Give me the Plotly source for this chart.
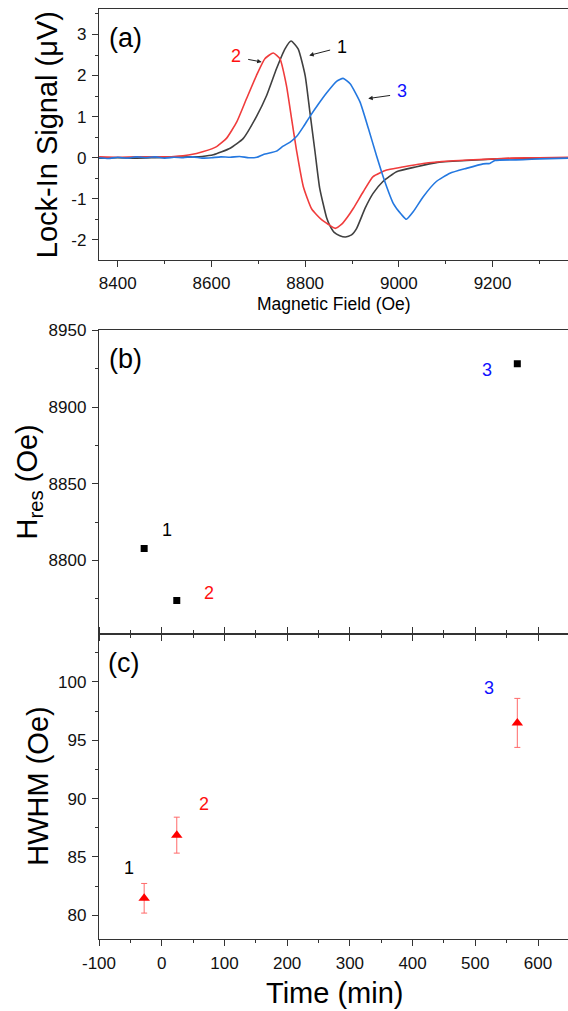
import plotly.graph_objects as go

# ---------------- data ----------------
# Panel (a): lock-in signal curves
field_1 = [8360, 8400, 8440, 8480, 8520, 8560, 8580, 8604, 8640, 8668, 8696, 8718, 8739, 8757, 8770,
           8785, 8800, 8810, 8821, 8831, 8846, 8853, 8862, 8874, 8886, 8899, 8910, 8928, 8945, 8966,
           8995, 9038, 9080, 9144, 9208, 9260, 9310, 9361]
signal_1 = [-0.01, 0.0, -0.01, 0.0, 0.01, 0.02, 0.03, 0.07, 0.23, 0.47, 1.0, 1.52, 2.17, 2.65, 2.84,
            2.65, 2.0, 1.12, 0.15, -0.74, -1.47, -1.66, -1.82, -1.90, -1.93, -1.88, -1.72, -1.23, -0.87, -0.58,
            -0.34, -0.22, -0.12, -0.07, -0.03, -0.02, -0.01, 0.0]

field_2 = [8360, 8400, 8440, 8480, 8520, 8554, 8583, 8611, 8632, 8654, 8675, 8696, 8714, 8732, 8746,
           8760, 8771, 8782, 8796, 8814, 8835, 8849, 8864, 8878, 8890, 8903, 8924, 8945, 8974, 9002,
           9052, 9109, 9180, 9240, 9300, 9361]
signal_2 = [0.02, 0.01, 0.02, 0.02, 0.03, 0.07, 0.15, 0.27, 0.47, 0.87, 1.44, 2.0, 2.41, 2.55, 2.41,
            1.76, 0.95, 0.15, -0.70, -1.25, -1.51, -1.62, -1.72, -1.62, -1.45, -1.23, -0.83, -0.46, -0.30, -0.24,
            -0.14, -0.08, -0.04, -0.01, 0.0, 0.01]

field_3 = [8360, 8380, 8400, 8420, 8440, 8460, 8480, 8500, 8520, 8540, 8560, 8580, 8600, 8620, 8640,
           8660, 8680, 8697, 8711, 8739, 8753, 8768, 8782, 8796, 8810, 8828, 8846, 8867, 8881, 8896,
           8917, 8935, 8952, 8970, 8988, 9006, 9016, 9031, 9052, 9080, 9109, 9144, 9180, 9194, 9205,
           9265, 9301, 9361]
signal_3 = [0.0, -0.02, 0.01, -0.01, 0.02, 0.0, 0.02, -0.01, 0.01, 0.0, 0.02, -0.01, 0.0, 0.02, 0.01,
            0.03, 0.0, 0.01, 0.08, 0.16, 0.28, 0.38, 0.52, 0.75, 1.0, 1.30, 1.58, 1.86, 1.93, 1.80,
            1.36, 0.71, 0.06, -0.58, -1.11, -1.39, -1.50, -1.31, -0.95, -0.58, -0.38, -0.26, -0.15, -0.14, -0.07,
            -0.05, -0.03, -0.01]

# Panels (b), (c)
time_min = [-28, 24, 567]
h_res = [8807.8, 8773.9, 8928.2]
hwhm = [81.46, 86.87, 96.49]
hwhm_err = [1.27, 1.54, 2.10]
labels = ["1", "2", "3"]

# tick labels
a_x_ticks = [8400, 8600, 8800, 9000, 9200]
a_y_ticks = [-2, -1, 0, 1, 2, 3]
a_y_text = ["-2", "-1", "0", "1", "2", "3"]
t_ticks = [-100, 0, 100, 200, 300, 400, 500, 600]
t_text = ["-100", "0", "100", "200", "300", "400", "500", "600"]
b_y_ticks = [8800, 8850, 8900, 8950]
c_y_ticks = [80, 85, 90, 95, 100]

# ---------------- styling ----------------
FONT = "Arial, Liberation Sans, sans-serif"
GRAY = "#404040"
RED = "#f03c3c"
BLUE = "#2478e0"
LBL_RED = "#ff1010"
LBL_BLUE = "#1010ff"
AX = "#333333"

fig = go.Figure()

line_kw = dict(width=1.6, shape="spline", smoothing=0.5)
fig.add_trace(go.Scatter(x=field_1, y=signal_1, mode="lines", line=dict(line_kw, color=GRAY),
                         xaxis="x", yaxis="y", showlegend=False))
fig.add_trace(go.Scatter(x=field_2, y=signal_2, mode="lines", line=dict(line_kw, color=RED),
                         xaxis="x", yaxis="y", showlegend=False))
fig.add_trace(go.Scatter(x=field_3, y=signal_3, mode="lines", line=dict(line_kw, color=BLUE),
                         xaxis="x", yaxis="y", showlegend=False))

fig.add_trace(go.Scatter(x=time_min, y=h_res, mode="markers",
                         marker=dict(symbol="square", size=7, color="black"),
                         xaxis="x2", yaxis="y2", showlegend=False))

fig.add_trace(go.Scatter(x=time_min, y=hwhm, mode="markers",
                         marker=dict(symbol="triangle-up", size=10, color="#ff0000"),
                         error_y=dict(type="data", array=hwhm_err, visible=True, color="#ff6a6a", thickness=1, width=3),
                         xaxis="x3", yaxis="y3", showlegend=False))

axis_common = dict(showline=True, linecolor=AX, linewidth=1.3, showgrid=False, zeroline=False,
                   ticks="outside", ticklen=6, tickwidth=1.2, tickcolor=AX,
                   tickfont=dict(family=FONT, size=17, color="#111111"), ticklabelstandoff=2)

# domains (paper fractions)
DA = [0.7306, 1.0]
DB = [0.3276, 0.6544]
DC = [0.0, 0.3276]

fig.update_layout(
    width=568, height=1011,
    margin=dict(l=99, r=0, t=7, b=72),
    paper_bgcolor="white", plot_bgcolor="white",
    xaxis=dict(axis_common, domain=[0, 1], anchor="y", range=[8360, 9361],
               tickvals=a_x_ticks, mirror=True,
               minor=dict(dtick=100, tick0=8400, ticks="outside", ticklen=3, tickcolor=AX, tickwidth=1.2)),
    yaxis=dict(axis_common, domain=DA, anchor="x", range=[-2.48, 3.62],
               tickvals=a_y_ticks, ticktext=a_y_text,
               minor=dict(dtick=0.5, tick0=0, ticks="outside", ticklen=3, tickcolor=AX, tickwidth=1.2)),
    xaxis2=dict(axis_common, domain=[0, 1], anchor="y2", range=[-100, 647.8],
                tickvals=t_ticks, showticklabels=False, mirror=True,
                minor=dict(dtick=50, tick0=0, ticks="outside", ticklen=3, tickcolor=AX, tickwidth=1.2)),
    yaxis2=dict(axis_common, domain=DB, anchor="x2", range=[8751.8, 8950],
                tickvals=b_y_ticks,
                minor=dict(dtick=25, tick0=8800, ticks="outside", ticklen=3, tickcolor=AX, tickwidth=1.2)),
    xaxis3=dict(axis_common, domain=[0, 1], anchor="y3", range=[-100, 647.8],
                tickvals=t_ticks, ticktext=t_text, mirror="ticks",
                minor=dict(dtick=50, tick0=0, ticks="outside", ticklen=3, tickcolor=AX, tickwidth=1.2)),
    yaxis3=dict(axis_common, domain=DC, anchor="x3", range=[77.97, 104.08],
                tickvals=c_y_ticks,
                minor=dict(dtick=2.5, tick0=80, ticks="outside", ticklen=3, tickcolor=AX, tickwidth=1.2)),
)

ann = []
def txt(text, x, y, xref, yref, size, color="black", angle=0):
    ann.append(dict(text=text, x=x, y=y, xref=xref, yref=yref, showarrow=False,
                    font=dict(family=FONT, size=size, color=color), textangle=angle,
                    xanchor="center", yanchor="middle"))

# axis titles
txt("Lock-In Signal (\u03bcV)", -0.111, 0.8653, "paper", "paper", 29, angle=-90)
txt("Magnetic Field (Oe)", 0.501, 0.6823, "paper", "paper", 17.5)
txt("H<sub>res</sub> (Oe)", -0.150, 0.4916, "paper", "paper", 29, angle=-90)
txt("HWHM (Oe)", -0.130, 0.1637, "paper", "paper", 29, angle=-90)
txt("Time (min)", 0.502, -0.058, "paper", "paper", 29)

# panel labels
txt("(a)", 8415.6, 2.91, "x", "y", 27)
txt("(b)", -57.7, 8931.5, "x2", "y2", 27)
txt("(c)", -60.9, 101.6, "x3", "y3", 27)

# curve labels in (a)
txt("1", 8877.9, 2.69, "x", "y", 18, "black")
txt("2", 8651.7, 2.48, "x", "y", 18, LBL_RED)
txt("3", 9006.5, 1.62, "x", "y", 18, LBL_BLUE)

# arrows in (a)
for (hx, hy, tx, ty) in [(8808.7, 2.49, 8856.5, 2.63), (8707.2, 2.33, 8675.2, 2.40), (8934.6, 1.44, 8984.5, 1.52)]:
    ann.append(dict(text="", x=hx, y=hy, ax=tx, ay=ty, xref="x", yref="y", axref="x", ayref="y",
                    showarrow=True, arrowhead=2, arrowsize=0.9, arrowwidth=1, arrowcolor="#222222", standoff=0))

# labels in (b)
txt("1", 9.1, 8819.9, "x2", "y2", 18, "black")
txt("2", 75.4, 8778.7, "x2", "y2", 18, LBL_RED)
txt("3", 519.3, 8923.9, "x2", "y2", 18, LBL_BLUE)

# labels in (c)
txt("1", -52.8, 84.02, "x3", "y3", 18, "black")
txt("2", 66.8, 89.53, "x3", "y3", 18, LBL_RED)
txt("3", 521.1, 99.49, "x3", "y3", 18, LBL_BLUE)

fig.update_layout(annotations=ann)

fig.write_html("out.html", config={"displayModeBar": False},
               post_script="document.body.style.margin='0';document.body.style.overflow='hidden';")
